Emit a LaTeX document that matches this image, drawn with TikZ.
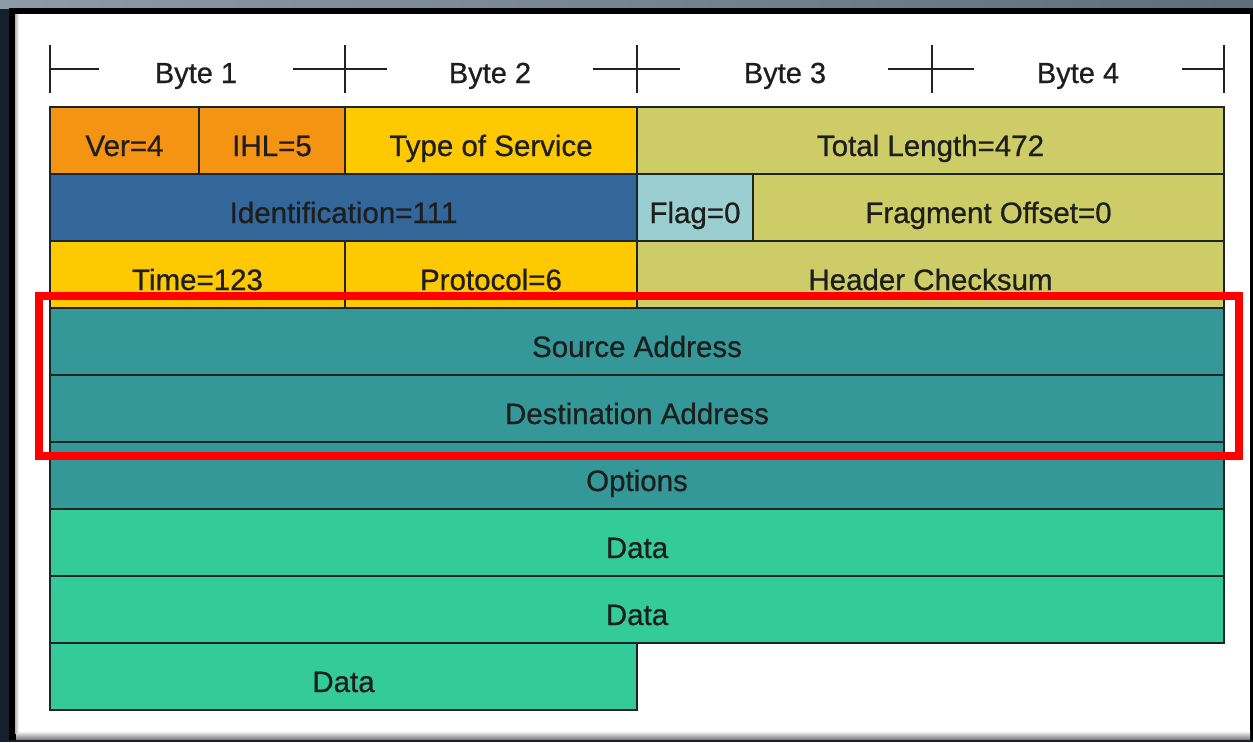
\documentclass[tikz,border=0pt]{standalone}
\usepackage{fontspec}
\setmainfont{Liberation Sans}[BoldFont=Liberation Sans, BoldFeatures={FakeBold=0.7}]
\definecolor{bgC}{HTML}{14202C}
\definecolor{topA}{HTML}{8E9BA6}
\definecolor{topB}{HTML}{5F6E7B}
\definecolor{lineC}{HTML}{1C2626}
\definecolor{txtC}{HTML}{1E1E1E}
\definecolor{tickC}{HTML}{222222}
\definecolor{cOrange}{HTML}{F59312}
\definecolor{cYellow}{HTML}{FEC901}
\definecolor{cOlive}{HTML}{CDCC66}
\definecolor{cBlue}{HTML}{336699}
\definecolor{cLight}{HTML}{9BCED1}
\definecolor{cTeal}{HTML}{349898}
\definecolor{cGreen}{HTML}{33CC99}
\newcommand{\ipcell}[7]{\node[cell, fill=#6, minimum width={(#4-#2)*1pt}, minimum height={(#5-#3)*1pt}] (#1) at (#2,#3) {#7};}
\begin{document}
\begin{tikzpicture}[x=1pt,y=-1pt,
  cell/.style={draw=lineC, line width=1.6pt, inner sep=0pt, outer sep=0pt,
    text height=31pt, text depth=0pt, anchor=north west, text=txtC,
    font=\fontsize{29.5}{30}\selectfont\bfseries},
  tickline/.style={draw=tickC, line width=1.6pt},
  bytelbl/.style={anchor=base, text=txtC, inner sep=0pt,
    font=\fontsize{29}{30}\selectfont\bfseries}]
\useasboundingbox (0,0) rectangle (1253,742);
% frame
\fill[bgC] (0,0) rectangle (1253,742);
\shade[left color=topA, right color=topB] (0,0) rectangle (1253,8);
\fill[black] (9,8) rectangle (1253,740);
\fill[white] (16,14) rectangle (1250,733);
\shade[top color=white, bottom color=gray] (16,731) rectangle (1250,739);
\shade[left color=gray!60, right color=white] (15,14) rectangle (19,733);

% byte ruler
\coordinate (t0) at (50,69);
\coordinate (t1) at (345,69);
\coordinate (t2) at (637,69);
\coordinate (t3) at (932,69);
\coordinate (t4) at (1224,69);
\foreach \t in {t0,t1,t2,t3,t4}
  \draw[tickline] ([yshift=24pt]\t) -- ([yshift=-24pt]\t);
\draw[tickline] (t0) -- ++(49,0);
\draw[tickline] (t1) ++(-52,0) -- ++(94,0);
\draw[tickline] (t2) ++(-44,0) -- ++(87,0);
\draw[tickline] (t3) ++(-44,0) -- ++(86,0);
\draw[tickline] (t4) -- ++(-42,0);
\node[bytelbl] (b1) at (196,83) {Byte 1};
\node[bytelbl] (b2) at (490,83) {Byte 2};
\node[bytelbl] (b3) at (785,83) {Byte 3};
\node[bytelbl] (b4) at (1078,83) {Byte 4};

% header cells
\ipcell{ver}{50}{107}{199}{174}{cOrange}{Ver=4}
\ipcell{ihl}{199}{107}{345}{174}{cOrange}{IHL=5}
\ipcell{tos}{345}{107}{637}{174}{cYellow}{Type of Service}
\ipcell{tlen}{637}{107}{1224}{174}{cOlive}{Total Length=472}
\ipcell{ident}{50}{174}{637}{241}{cBlue}{Identification=111}
\ipcell{flag}{637}{174}{753}{241}{cLight}{Flag=0}
\ipcell{frag}{753}{174}{1224}{241}{cOlive}{Fragment Offset=0}
\ipcell{ttl}{50}{241}{345}{308}{cYellow}{Time=123}
\ipcell{proto}{345}{241}{637}{308}{cYellow}{Protocol=6}
\ipcell{chk}{637}{241}{1224}{308}{cOlive}{Header Checksum}
\ipcell{src}{50}{308}{1224}{375}{cTeal}{Source Address}
\ipcell{dst}{50}{375}{1224}{442}{cTeal}{Destination Address}
\ipcell{opt}{50}{442}{1224}{509}{cTeal}{Options}
\ipcell{data1}{50}{509}{1224}{576}{cGreen}{Data}
\ipcell{data2}{50}{576}{1224}{643}{cGreen}{Data}
\ipcell{data3}{50}{643}{637}{710}{cGreen}{Data}

% highlight
\node[draw=red, line width=8pt, inner sep=0pt, outer sep=0pt, anchor=north west,
  minimum width=1200pt, minimum height=159.5pt] (hl) at (39,296) {};
\end{tikzpicture}
\end{document}
